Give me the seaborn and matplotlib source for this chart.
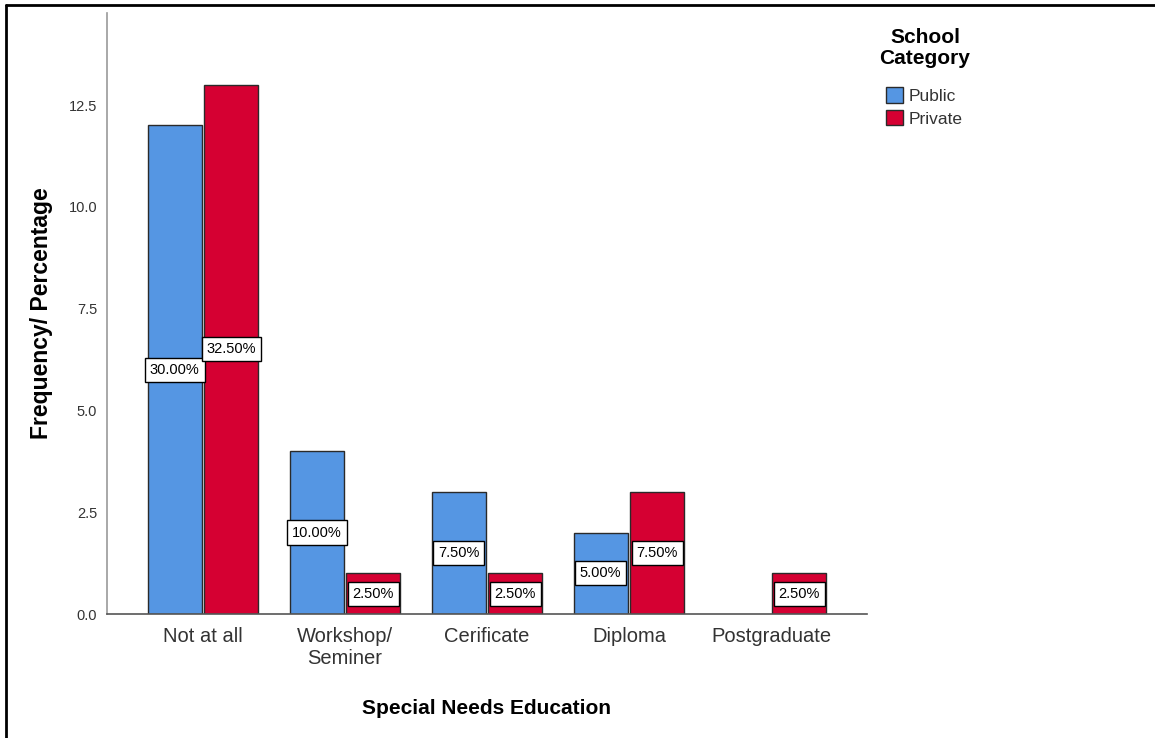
import seaborn as sns
import matplotlib.pyplot as plt
import pandas as pd
from matplotlib.lines import Line2D

levels = ['Not at all', 'Workshop/\nSeminer', 'Cerificate', 'Diploma', 'Postgraduate']
schools = ['Public', 'Private']
public_counts = [12, 4, 3, 2, 0]
private_counts = [13, 1, 1, 3, 1]
public_pct = ['30.00%', '10.00%', '7.50%', '5.00%', '']
private_pct = ['32.50%', '2.50%', '2.50%', '7.50%', '2.50%']

df = pd.DataFrame({
    'education': levels * 2,
    'count': public_counts + private_counts,
    'school': ['Public'] * 5 + ['Private'] * 5,
})

sns.set_style('white')
plt.rcParams['font.family'] = ['Liberation Sans', 'DejaVu Sans']

fig = plt.figure(figsize=(11.55, 7.38), dpi=100)
ax = fig.add_axes([107/1155, 1-614/738, 760/1155, 601/738])

sns.barplot(data=df, x='education', y='count', hue='school', hue_order=schools,
            palette=['#5596E3', '#D50032'], saturation=1, width=0.8, gap=0.05,
            edgecolor='#2a2a2a', linewidth=1, ax=ax)

# percentage boxes in the middle of each bar
for container, pcts in zip(ax.containers, [public_pct, private_pct]):
    for bar, pct in zip(container, pcts):
        if bar.get_height() == 0:
            bar.set_visible(False)
            continue
        ax.text(bar.get_x() + bar.get_width()/2, bar.get_height()/2, pct,
                ha='center', va='center', fontsize=10.5, color='black',
                bbox=dict(boxstyle='square,pad=0.35', fc='white', ec='black', lw=1))

ax.set_xlim(-0.676, 4.676)
ax.set_ylim(0, 14.76)
ax.set_yticks([0, 2.5, 5, 7.5, 10, 12.5])
ax.set_yticklabels(['0.0', '2.5', '5.0', '7.5', '10.0', '12.5'])
ax.tick_params(axis='y', length=0, pad=7, labelsize=10.5, labelcolor='#333333')
ax.tick_params(axis='x', length=0, pad=9, labelsize=14.5, labelcolor='#333333')

sns.despine(ax=ax)
ax.spines['left'].set_color('#999999')
ax.spines['bottom'].set_color('#555555')
ax.spines['left'].set_linewidth(1.2)
ax.spines['bottom'].set_linewidth(1.2)

ax.set_xlabel('Special Needs Education', fontsize=15, fontweight='bold', color='black')
ax.set_ylabel('Frequency/ Percentage', fontsize=16.5, fontweight='bold', color='black')
ax.xaxis.set_label_coords(0.5, (614-708)/601)
ax.xaxis.label.set_va('center')
ax.yaxis.set_label_coords((42-107)/760, 0.5)
ax.yaxis.label.set_va('center')

# legend title drawn separately so the gap below it matches
fig.text(925/1155, 1-48/738, 'School\nCategory', ha='center', va='center',
         fontsize=15, fontweight='bold', linespacing=1.15, color='black')
handles, labels = ax.get_legend_handles_labels()
leg = ax.legend(handles, labels, frameon=False,
                loc='upper left', bbox_to_anchor=(886/1155, 1-87/738),
                bbox_transform=fig.transFigure, fontsize=12.5,
                handlelength=1.0, handleheight=1.0, handletextpad=0.3,
                labelspacing=0.35, borderpad=0, borderaxespad=0)
for t in leg.get_texts():
    t.set_color('#333333')

# outer frame (left and top edges)
fig.add_artist(Line2D([6/1155, 6/1155], [0, 1-5/738], color='black', lw=2, transform=fig.transFigure))
fig.add_artist(Line2D([6/1155, 1], [1-5/738, 1-5/738], color='black', lw=2, transform=fig.transFigure))

fig.savefig('out.png', dpi=100)
